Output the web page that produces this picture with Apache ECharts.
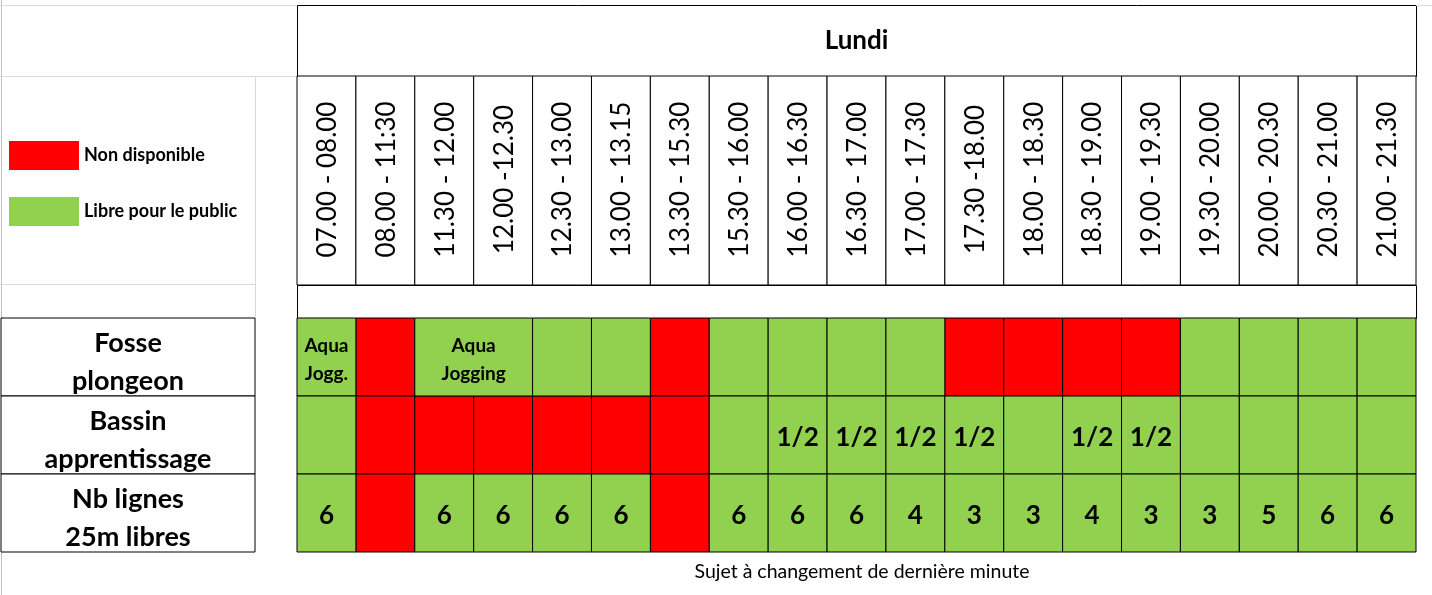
<!DOCTYPE html>
<html><head><meta charset="utf-8">
<script src="https://cdn.jsdelivr.net/npm/echarts@6/dist/echarts.min.js"></script>
<style>html,body{margin:0;padding:0;background:#fff}#c{width:1432px;height:595px}</style>
</head><body><div id="c"></div>
<script>
const dayTitle = "Lundi";
const slots = ["07.00 - 08.00","08.00 - 11:30","11.30 - 12.00","12.00 -12.30","12.30 - 13.00","13.00 - 13.15","13.30 - 15.30","15.30 - 16.00","16.00 - 16.30","16.30 - 17.00","17.00 - 17.30","17.30 -18.00","18.00 - 18.30","18.30 - 19.00","19.00 - 19.30","19.30 - 20.00","20.00 - 20.30","20.30 - 21.00","21.00 - 21.30"];
const rowNames = ["Fosse\nplongeon","Bassin\napprentissage","Nb lignes\n25m libres"];
const legendNames = ["Non disponible","Libre pour le public"];
// Fosse plongeon: [first slot, number of slots, status (0 = non disponible, 1 = libre), text]
const fosseCells = [[0,1,1,"Aqua\nJogg."],[1,1,0,""],[2,2,1,"Aqua\nJogging"],[4,1,1,""],[5,1,1,""],[6,1,0,""],[7,1,1,""],[8,1,1,""],[9,1,1,""],[10,1,1,""],[11,1,0,""],[12,1,0,""],[13,1,0,""],[14,1,0,""],[15,1,1,""],[16,1,1,""],[17,1,1,""],[18,1,1,""]];
const bassinStatus = [1,0,0,0,0,0,0,1,1,1,1,1,1,1,1,1,1,1,1];
const bassinText = ["","","","","","","","","1/2","1/2","1/2","1/2","","1/2","1/2","","","",""];
const lignesLibres = [6,null,6,6,6,6,null,6,6,6,4,3,3,4,3,3,5,6,6];
const footNote = "Sujet à changement de dernière minute";

const RED = '#FF0000', GREEN = '#92D050', FONT = 'Lato, "Noto Sans", sans-serif';

const cells = [];
fosseCells.forEach(c => cells.push({x:c[0], span:c[1], row:0, status:c[2], text:c[3]}));
bassinStatus.forEach((s,i) => cells.push({x:i, span:1, row:1, status:s, text:bassinText[i]}));
lignesLibres.forEach((v,i) => cells.push({x:i, span:1, row:2, status:v==null?0:1, text:v==null?'':String(v)}));
const redCells = cells.filter(c => c.status === 0);
const greenCells = cells.filter(c => c.status === 1);

function makeRender(list){
  return function(params, api){
    const c = list[params.dataIndex];
    const p = api.coord([c.x, c.row]);
    const s = api.size([1,1]);
    const x0 = p[0]-s[0]/2, y0 = p[1]-s[1]/2, w = s[0]*c.span;
    const ch = [{type:'rect', shape:{x:x0,y:y0,width:w,height:s[1]}, style:{fill:api.visual('color'), stroke:'#000', lineWidth:1}}];
    if (c.text){
      const small = c.text.indexOf('Aqua') === 0;
      ch.push({type:'text', x:x0+w/2, y:p[1]+(small?3:3), style:{text:c.text, fill:'#000', fontFamily:FONT, fontWeight:'bold', fontSize: small?19:26, lineHeight: small?28:30, align:'center', verticalAlign:'middle'}});
    }
    return {type:'group', children:ch};
  };
}

const chart = echarts.init(document.getElementById('c'), null, {renderer:'canvas'});
chart.setOption({
  animation:false,
  backgroundColor:'#fff',
  legend:{left:9, top:141, padding:0, orient:'vertical', icon:'rect', itemWidth:70, itemHeight:29, itemGap:27, selectedMode:false,
    data:legendNames, textStyle:{fontFamily:FONT, fontWeight:'bold', fontSize:18, color:'#000'}},
  grid:[
    {left:297, top:318, width:1119, height:234},
    {left:297, top:76, width:1119, height:209},
    {left:1, top:318, width:254, height:234}
  ],
  xAxis:[
    {gridIndex:0, type:'category', data:slots, show:false},
    {gridIndex:1, type:'category', data:slots, show:false},
    {gridIndex:2, type:'category', data:['r'], show:false}
  ],
  yAxis:[
    {gridIndex:0, type:'category', data:rowNames, inverse:true, show:false},
    {gridIndex:1, type:'category', data:['h'], show:false},
    {gridIndex:2, type:'category', data:rowNames, inverse:true, show:false}
  ],
  series:[
    {name:legendNames[0], type:'custom', xAxisIndex:0, yAxisIndex:0, itemStyle:{color:RED},
      data:redCells.map(c=>[c.x,c.row]), renderItem:makeRender(redCells)},
    {name:legendNames[1], type:'custom', xAxisIndex:0, yAxisIndex:0, itemStyle:{color:GREEN},
      data:greenCells.map(c=>[c.x,c.row]), renderItem:makeRender(greenCells)},
    {name:'slots', type:'custom', xAxisIndex:1, yAxisIndex:1, data:slots.map((s,i)=>[i,0]),
      renderItem:function(params, api){
        const p = api.coord([api.value(0), 0]); const s = api.size([1,1]);
        return {type:'group', children:[
          {type:'rect', shape:{x:p[0]-s[0]/2, y:p[1]-s[1]/2, width:s[0], height:s[1]}, style:{fill:'#fff', stroke:'#000', lineWidth:1}},
          {type:'text', x:p[0]+1, y:p[1]-1, rotation:Math.PI/2, style:{text:slots[params.dataIndex], fill:'#000', fontFamily:FONT, fontSize:26, align:'center', verticalAlign:'middle'}}
        ]};
      }},
    {name:'rows', type:'custom', xAxisIndex:2, yAxisIndex:2, data:rowNames.map((r,i)=>[0,i]),
      renderItem:function(params, api){
        const p = api.coord([0, api.value(1)]); const s = api.size([1,1]);
        return {type:'group', children:[
          {type:'rect', shape:{x:p[0]-s[0]/2, y:p[1]-s[1]/2, width:s[0], height:s[1]}, style:{fill:'#fff', stroke:'#000', lineWidth:1}},
          {type:'text', x:p[0], y:p[1]+5, style:{text:rowNames[params.dataIndex], fill:'#000', fontFamily:FONT, fontWeight:'bold', fontSize:27, lineHeight:38, align:'center', verticalAlign:'middle'}}
        ]};
      }}
  ],
  graphic:[
    {type:'line', shape:{x1:1.5,y1:0,x2:1.5,y2:595}, style:{stroke:'#c0c0c0', lineWidth:1}, silent:true},
    {type:'line', shape:{x1:0,y1:5.5,x2:297,y2:5.5}, style:{stroke:'#d9d9d9', lineWidth:1}, silent:true},
    {type:'line', shape:{x1:1416,y1:5.5,x2:1432,y2:5.5}, style:{stroke:'#d9d9d9', lineWidth:1}, silent:true},
    {type:'line', shape:{x1:0,y1:76.5,x2:297,y2:76.5}, style:{stroke:'#d9d9d9', lineWidth:1}, silent:true},
    {type:'line', shape:{x1:255.5,y1:76,x2:255.5,y2:318}, style:{stroke:'#d9d9d9', lineWidth:1}, silent:true},
    {type:'line', shape:{x1:0,y1:284.5,x2:255,y2:284.5}, style:{stroke:'#d9d9d9', lineWidth:1}, silent:true},
    {type:'rect', shape:{x:297.5,y:5.5,width:1119,height:71}, style:{fill:'#fff', stroke:'#000', lineWidth:1}, z:-1},
    {type:'rect', shape:{x:297.5,y:285.5,width:1119,height:33}, style:{fill:'#fff', stroke:'#000', lineWidth:1}, z:-1},
    {type:'text', x:856.5, y:41, style:{text:dayTitle, fill:'#000', fontFamily:FONT, fontWeight:'bold', fontSize:26, align:'center', verticalAlign:'middle'}},
    {type:'text', x:862, y:572, style:{text:footNote, fill:'#000', fontFamily:FONT, fontSize:19.5, align:'center', verticalAlign:'middle'}}
  ]
});
</script></body></html>
